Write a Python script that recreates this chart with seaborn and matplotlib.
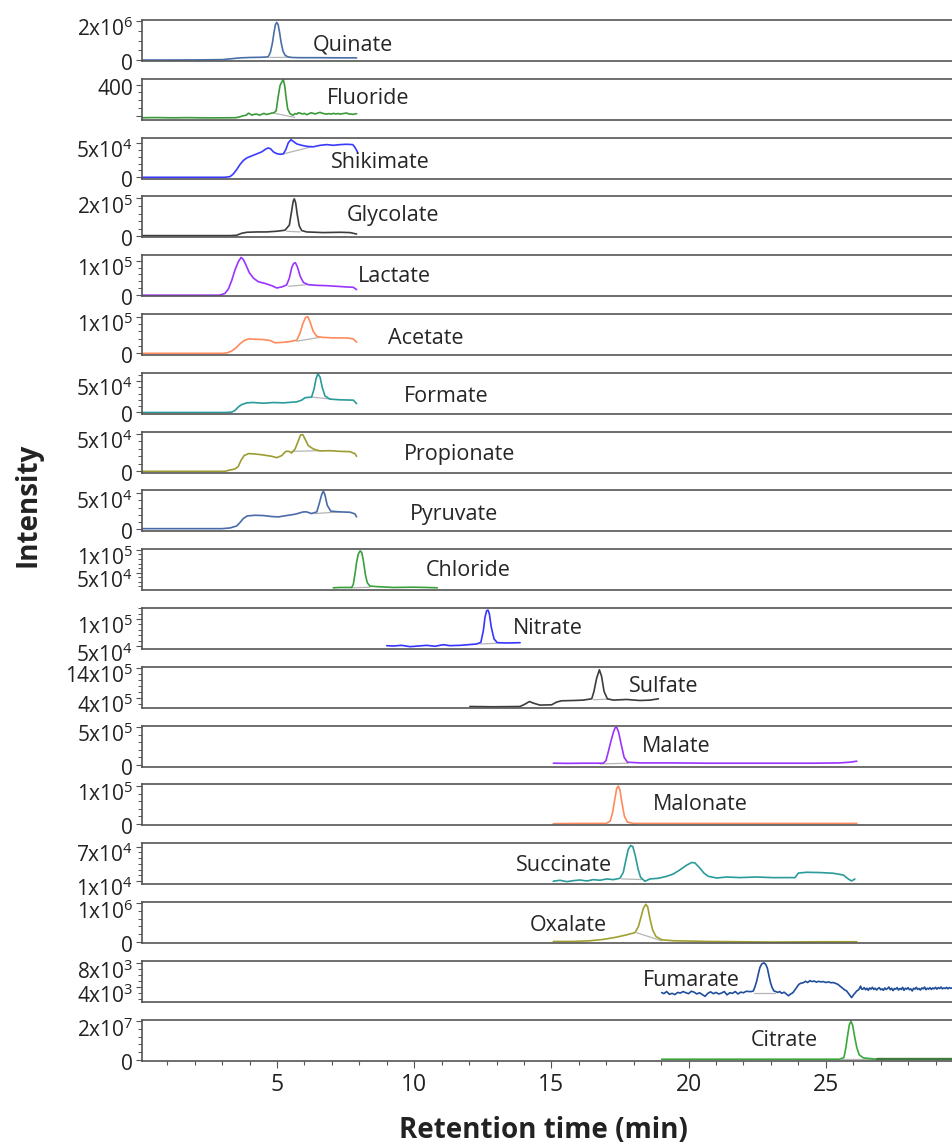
import numpy as np
import pandas as pd
import matplotlib
matplotlib.use("Agg")
import matplotlib.pyplot as plt
from matplotlib.ticker import FixedLocator, FixedFormatter, MultipleLocator
from matplotlib.transforms import ScaledTranslation
import seaborn as sns

# ------------------------------------------------------------------
# Chromatogram traces (retention time in min, intensity in counts)
# ------------------------------------------------------------------
names = ["Quinate", "Fluoride", "Shikimate", "Glycolate", "Lactate", "Acetate",
         "Formate", "Propionate", "Pyruvate", "Chloride", "Nitrate", "Sulfate",
         "Malate", "Malonate", "Succinate", "Oxalate", "Fumarate", "Citrate"]

quinate_t = [0.08, 1.0, 2.0, 3.0, 3.3, 3.65, 4.0, 4.4, 4.68, 4.76, 4.83, 4.89, 4.94, 4.99,
             5.04, 5.09, 5.15, 5.22, 5.30, 5.40, 5.55, 5.8, 6.4, 7.0, 7.6, 7.9]
quinate_y = [0, 0, 5e3, 2e4, 6e4, 1.1e5, 1.3e5, 1.4e5, 1.6e5, 4.0e5, 8.5e5, 1.4e6, 1.8e6, 1.93e6,
             1.82e6, 1.45e6, 9.0e5, 4.5e5, 2.4e5, 1.6e5, 1.3e5, 1.2e5, 1.2e5, 1.15e5, 1.1e5, 1.1e5]
quinate_base = ([4.75, 5.45], [1.3e5, 1.4e5])

fluoride_t = [0.08, 0.6, 1.2, 1.8, 2.4, 3.0, 3.5, 3.65, 3.77, 3.88, 3.96, 4.02, 4.08, 4.17, 4.26,
              4.32, 4.38, 4.45, 4.53, 4.6, 4.68, 4.75, 4.81, 4.89, 4.97, 5.04, 5.11, 5.17, 5.23,
              5.28, 5.33, 5.39, 5.47, 5.53, 5.59, 5.66, 5.72, 5.78, 5.84, 5.92, 6.0, 6.08, 6.16,
              6.24, 6.32, 6.4, 6.48, 6.57, 6.65, 6.73, 6.81, 6.9, 6.98, 7.05, 7.15, 7.22, 7.3,
              7.38, 7.46, 7.54, 7.62, 7.7, 7.78, 7.85, 7.9]
fluoride_y = [-17, -15, -18, -16, -19, -18, -17, -5, 8, 15, 40, 30, 16, 25, 29,
              20, 16, 28, 38, 24, 29, 35, 42, 45, 71, 240, 387, 430, 460,
              387, 240, 92, 37, 22, 16, 35, 28, 45, 42, 30, 38, 21, 33,
              45, 38, 30, 42, 50, 40, 33, 29, 35, 28, 38, 30, 36, 29,
              33, 38, 42, 30, 28, 25, 33, 33]
fluoride_base = ([4.93, 5.65], [38, -13])

shikimate_t = [0.08, 1.5, 3.1, 3.29, 3.41, 3.53, 3.65, 3.77, 3.90, 4.08, 4.26, 4.44, 4.60, 4.68,
               4.77, 4.87, 4.99, 5.11, 5.23, 5.32, 5.41, 5.51, 5.59, 5.72, 5.90, 6.08, 6.32,
               6.57, 6.81, 7.05, 7.30, 7.54, 7.76, 7.84, 7.93]
shikimate_y = [0, 0, 0, 1000, 4900, 11200, 18500, 24300, 28200, 31100, 34000, 36900, 41300, 42700,
               41300, 36900, 34400, 33400, 34000, 40200, 50000, 54800, 52300, 48500, 46500, 45000, 44300,
               46500, 47500, 46500, 47500, 48000, 47500, 43600, 36900]
shikimate_base = ([5.23, 6.26], [34000, 44300])

glycolate_t = [0.08, 1.5, 3.3, 3.53, 3.71, 3.90, 4.26, 4.62, 4.99, 5.29, 5.45, 5.53, 5.59, 5.63,
               5.68, 5.74, 5.81, 5.90, 6.08, 6.69, 7.30, 7.66, 7.9]
glycolate_y = [4000, 4000, 4000, 6000, 16200, 21600, 23400, 23400, 27000, 32400, 59500, 131000, 185000, 198000,
               177000, 113500, 55700, 30800, 23400, 20000, 21600, 20000, 12400]
glycolate_base = ([5.35, 5.84], [27000, 23400])

lactate_t = [0.08, 1.5, 2.9, 3.10, 3.23, 3.35, 3.47, 3.59, 3.69, 3.77, 3.87, 3.99, 4.14, 4.32, 4.56,
             4.81, 4.99, 5.17, 5.35, 5.45, 5.54, 5.61, 5.67, 5.74, 5.84, 5.96, 6.14, 6.45, 6.81,
             7.18, 7.54, 7.78, 7.9]
lactate_y = [-2000, -2000, -2000, 2900, 16600, 41700, 72900, 97100, 110000, 104000, 87500, 65000, 48600,
             37900, 33000, 26200, 19400, 22400, 28300, 48600, 80700, 92400, 94300, 82600, 55400, 35900,
             29100, 27200, 26200, 24300, 22400, 21400, 14600]
lactate_base = ([5.41, 6.08], [24300, 29100])

acetate_t = [0.08, 1.5, 3.0, 3.17, 3.35, 3.51, 3.65, 3.80, 3.96, 4.20, 4.50, 4.75, 4.93, 5.11, 5.41,
             5.72, 5.84, 5.94, 6.04, 6.12, 6.20, 6.32, 6.45, 6.63, 7.05, 7.54, 7.78, 7.9]
acetate_y = [0, 0, 0, 900, 6200, 15200, 25900, 34800, 39300, 38400, 37500, 34800, 28600, 29500, 31300,
             35700, 55400, 80400, 97300, 100000, 86600, 59800, 46400, 43700, 42000, 42000, 39300, 30400]
acetate_base = ([5.72, 6.57], [33000, 43700])

formate_t = [0.08, 1.5, 3.1, 3.35, 3.47, 3.59, 3.71, 3.90, 4.14, 4.50, 4.87, 5.23, 5.72, 5.90, 6.02,
             6.26, 6.35, 6.42, 6.49, 6.57, 6.65, 6.75, 6.93, 7.30, 7.78, 7.9]
formate_y = [0, 0, 0, 600, 3300, 8700, 12500, 15300, 15800, 14700, 15800, 15300, 16900, 19600, 23400,
             24500, 37000, 53300, 61500, 56000, 39700, 26100, 21200, 20100, 19600, 14100]
formate_base = ([6.26, 6.99], [24500, 21200])

propionate_t = [0.08, 1.5, 3.1, 3.29, 3.47, 3.59, 3.69, 3.80, 3.96, 4.20, 4.50, 4.81, 4.99, 5.17, 5.32,
                5.44, 5.53, 5.66, 5.77, 5.86, 5.94, 6.02, 6.14, 6.32, 6.57, 6.93, 7.30, 7.66, 7.84, 7.9]
propionate_y = [0, 0, 0, 1800, 3100, 6600, 14600, 20800, 23500, 23000, 21700, 19900, 18100, 20800, 26500,
                26500, 24300, 29700, 39800, 48300, 48600, 43000, 34100, 29700, 27000, 27400, 26500, 26100,
                23500, 19900]
propionate_base = ([5.53, 6.57], [26500, 27400])

pyruvate_t = [0.08, 1.5, 3.0, 3.29, 3.53, 3.65, 3.77, 3.92, 4.20, 4.50, 4.81, 5.05, 5.35, 5.66, 5.96,
              6.08, 6.26, 6.45, 6.54, 6.63, 6.69, 6.75, 6.83, 6.96, 7.30, 7.66, 7.84, 7.9]
pyruvate_y = [0, 0, 0, 1000, 3800, 8600, 14300, 18100, 19000, 18600, 17200, 16700, 18600, 20500, 23800,
              23800, 21400, 23800, 35700, 48600, 53300, 47600, 33300, 24800, 23800, 23300, 21000, 16700]
pyruvate_base = ([6.38, 7.30], [21400, 23800])

chloride_t = [7.05, 7.3, 7.72, 7.78, 7.84, 7.90, 7.96, 8.03, 8.09, 8.15, 8.22, 8.29, 8.39, 8.75,
              9.24, 9.97, 10.46, 10.84]
chloride_y = [16800, 17500, 17500, 24100, 46200, 72100, 90500, 97800, 94200, 75600, 46200, 27900,
              20400, 19000, 17500, 18100, 17500, 16800]
chloride_base = ([7.72, 8.39], [16800, 18100])

nitrate_t = [9.0, 9.24, 9.54, 9.85, 10.15, 10.46, 10.76, 11.06, 11.3, 11.67, 11.97, 12.28, 12.43,
             12.52, 12.58, 12.64, 12.69, 12.74, 12.81, 12.91, 13.03, 13.37, 13.86]
nitrate_y = [51100, 50500, 51700, 49300, 50500, 51700, 50000, 52900, 51100, 51700, 52900, 54200, 57300,
             78500, 103100, 115200, 116400, 109200, 84800, 63400, 56600, 56000, 56600]
nitrate_base = ([12.40, 13.0], [54200, 55400])

sulfate_t = [12.03, 12.88, 13.86, 14.04, 14.2, 14.34, 14.58, 15.01, 15.19, 15.37, 15.8, 16.16, 16.47,
             16.55, 16.65, 16.75, 16.83, 16.92, 17.04, 17.26, 17.74, 18.23, 18.59, 18.9]
sulfate_y = [1.07e5, 0.97e5, 1.07e5, 1.88e5, 2.75e5, 2.21e5, 1.54e5, 1.64e5, 2.55e5, 2.99e5, 3.09e5,
             3.22e5, 3.66e5, 6.12e5, 1.063e6, 1.343e6, 1.117e6, 6.12e5, 3.66e5, 3.22e5, 3.44e5, 3.09e5,
             3.22e5, 3.66e5]
sulfate_base = ([16.53, 17.07], [3.33e5, 3.55e5])

malate_t = [15.07, 15.6, 16.2, 16.89, 16.99, 17.07, 17.16, 17.26, 17.32, 17.38, 17.45, 17.54, 17.65,
            17.77, 18.23, 19.44, 20.66, 21.87, 23.09, 24.54, 25.52, 25.88, 26.13]
malate_y = [22500, 20000, 22500, 22500, 57000, 168000, 301000, 433000, 491000, 500000, 433000, 279000,
            102000, 35800, 26500, 26500, 22500, 22500, 22500, 22500, 26500, 35800, 49000]
malate_base = ([16.77, 17.80], [13000, 22500])

malonate_t = [15.07, 16.0, 17.0, 17.14, 17.23, 17.31, 17.38, 17.44, 17.50, 17.57, 17.66, 17.77, 18.0,
              20.0, 22.0, 24.0, 26.13]
malonate_y = [0, 800, 800, 6900, 29300, 64600, 93900, 100000, 89400, 55900, 20200, 4300, 800,
              800, 800, 800, 800]
malonate_base = ([17.07, 18.05], [0, 0])

succinate_t = [15.07, 15.31, 15.56, 15.80, 16.04, 16.29, 16.53, 16.77, 17.02, 17.26, 17.50, 17.62,
               17.72, 17.80, 17.89, 17.97, 18.06, 18.16, 18.25, 18.41, 18.59, 18.90, 19.20, 19.44,
               19.69, 19.93, 20.11, 20.23, 20.39, 20.56, 20.72, 21.02, 21.39, 21.87, 22.48, 23.09,
               23.58, 23.88, 24.0, 24.30, 24.79, 25.27, 25.64, 25.82, 25.94, 26.06]
succinate_y = [9500, 11200, 8800, 10500, 11700, 10000, 12300, 11200, 13500, 12300, 14700, 25000,
               48000, 65300, 72200, 70000, 53800, 30700, 16400, 9500, 13500, 14700, 18100, 22100,
               29600, 37700, 42300, 41700, 33700, 23800, 18100, 15200, 16900, 15900, 16900, 15800,
               15900, 15800, 23800, 25200, 24700, 23500, 20400, 13500, 10000, 13500]
succinate_base = ([17.56, 18.29], [13500, 12500])

oxalate_t = [15.07, 15.8, 16.41, 16.89, 17.38, 17.74, 18.05, 18.17, 18.27, 18.35, 18.44, 18.51, 18.59,
             18.69, 18.81, 19.02, 19.44, 20.66, 21.87, 23.09, 24.91, 26.13]
oxalate_y = [7700, 7700, 25600, 59800, 120000, 179000, 239000, 393000, 650000, 864000, 974000, 906000,
             607000, 308000, 137000, 51000, 25600, 7700, 0, -8500, 0, 0]
oxalate_base = ([18.11, 19.02], [232000, 25600])

fumarate_t = [19.02, 19.1, 19.2, 19.3, 19.4, 19.5, 19.6, 19.7, 19.8, 19.9, 20.0, 20.1, 20.2, 20.3,
              20.4, 20.5, 20.6, 20.7, 20.8, 20.9, 21.0, 21.1, 21.2, 21.3, 21.4, 21.5, 21.6, 21.7,
              21.8, 21.9, 22.0, 22.1, 22.2, 22.30, 22.36, 22.42, 22.48, 22.54, 22.60, 22.67, 22.75,
              22.81, 22.87, 22.93, 22.99, 23.05, 23.11, 23.18, 23.25, 23.32, 23.40, 23.48, 23.56,
              23.64, 23.72, 23.80, 23.88, 23.94, 24.02, 24.10, 24.18, 24.26, 24.34, 24.42, 24.50,
              24.58, 24.66, 24.74, 24.82, 24.91, 25.0, 25.1, 25.2, 25.27, 25.35, 25.44, 25.52, 25.6,
              25.68, 25.76, 25.84, 25.94, 26.02, 26.13, 26.2, 26.27, 26.31, 26.35, 26.40, 26.45,
              26.50, 26.55, 26.60, 26.65, 26.70, 26.75, 26.80, 26.85, 26.90, 26.95, 27.00, 27.05,
              27.10, 27.15, 27.20, 27.25, 27.30, 27.35, 27.40, 27.45, 27.50, 27.55, 27.60, 27.65,
              27.70, 27.75, 27.80, 27.85, 27.90, 27.95, 28.00, 28.05, 28.10, 28.15, 28.20, 28.25,
              28.30, 28.35, 28.40, 28.45, 28.50, 28.55, 28.60, 28.65, 28.70, 28.75, 28.80, 28.85,
              28.90, 28.95, 29.00, 29.05, 29.10, 29.15, 29.20, 29.25, 29.30, 29.35, 29.40, 29.45,
              29.50, 29.55, 29.60]
fumarate_y = [3130, 2960, 3300, 2850, 3000, 2800, 3150, 3050, 3300, 3100, 2950, 3350, 3200, 2900,
              3100, 2800, 2500, 3000, 3250, 2950, 3150, 2900, 3050, 3300, 2750, 3100, 3000, 3300,
              2900, 3200, 3100, 3350, 3300, 3300, 3400, 4100, 5000, 6200, 7300, 7900, 8050,
              7800, 7200, 5900, 4700, 3900, 3400, 3300, 3150, 3300, 3000, 3200, 2900,
              2600, 2900, 3100, 3600, 3950, 4500, 4700, 4760, 5000, 4800, 5100, 4950,
              5050, 4850, 5000, 4900, 4950, 4800, 4900, 4750, 4800, 4650, 4500, 4200, 3900,
              3600, 3400, 2900, 2300, 2800, 3400, 3600, 4200, 3700, 3700, 3950, 3600,
              3850, 3500, 3900, 3700, 4000, 3650, 3850, 3550, 3800, 3950, 3600, 3750,
              3500, 3900, 3650, 3800, 4050, 3600, 3850, 3450, 3800, 3700, 3950, 3550,
              3800, 3650, 4000, 3500, 3850, 3700, 3950, 3600, 3750, 3400, 3850, 3700,
              4000, 3650, 3800, 3550, 3900, 3750, 4050, 3600, 3850, 3700, 3950, 3650,
              3900, 3750, 4000, 3700, 3950, 3800, 4050, 3750, 3900, 3800, 4000, 3750,
              3950, 3850, 3900]
fumarate_base = ([22.40, 23.15], [3130, 3130])

citrate_t = [19.02, 22.0, 25.5, 25.66, 25.73, 25.80, 25.86, 25.92, 25.98, 26.05, 26.13, 26.22, 26.37,
             26.73, 26.85, 28.0, 29.6]
citrate_y = [3.5e5, 3.5e5, 3.5e5, 1.2e6, 6.1e6, 1.305e7, 1.83e7, 2.0e7, 1.79e7, 1.22e7, 6.4e6, 2.6e6,
             1.04e6, 5.0e5, 3.5e5, 3.5e5, 3.5e5]
citrate_base = ([25.55, 26.9], [3.5e5, 3.5e5])

traces_t = [quinate_t, fluoride_t, shikimate_t, glycolate_t, lactate_t, acetate_t, formate_t,
            propionate_t, pyruvate_t, chloride_t, nitrate_t, sulfate_t, malate_t, malonate_t,
            succinate_t, oxalate_t, fumarate_t, citrate_t]
traces_y = [quinate_y, fluoride_y, shikimate_y, glycolate_y, lactate_y, acetate_y, formate_y,
            propionate_y, pyruvate_y, chloride_y, nitrate_y, sulfate_y, malate_y, malonate_y,
            succinate_y, oxalate_y, fumarate_y, citrate_y]
baselines = [quinate_base, fluoride_base, shikimate_base, glycolate_base, lactate_base, acetate_base,
             formate_base, propionate_base, pyruvate_base, chloride_base, nitrate_base, sulfate_base,
             malate_base, malonate_base, succinate_base, oxalate_base, fumarate_base, citrate_base]

# Intensity axis of each panel: range, labelled ticks, minor tick step
y_ranges = [(-5e4, 2.05e6), (-43, 472), (-1900, 57700), (-5400, 210800), (-5000, 116600),
            (-4600, 107200), (-2100, 63000), (-1700, 52700), (-3900, 54300), (11500, 101500),
            (45000, 120200), (63000, 1444000), (-22500, 521000), (-4500, 104500), (4300, 76200),
            (-33000, 1033000), (1600, 8400), (-3.7e5, 2.09e7)]
y_ticks = [[0, 2e6], [0, 400], [0, 5e4], [0, 2e5], [0, 1e5], [0, 1e5], [0, 5e4], [0, 5e4], [0, 5e4],
           [5e4, 1e5], [5e4, 1e5], [4e5, 14e5], [0, 5e5], [0, 1e5], [1e4, 7e4], [0, 1e6], [4e3, 8e3],
           [0, 2e7]]
y_tick_labels = [["0", "2x10^6"], ["", "400"], ["0", "5x10^4"], ["0", "2x10^5"], ["0", "1x10^5"],
                 ["0", "1x10^5"], ["0", "5x10^4"], ["0", "5x10^4"], ["0", "5x10^4"],
                 ["5x10^4", "1x10^5"], ["5x10^4", "1x10^5"], ["4x10^5", "14x10^5"], ["0", "5x10^5"],
                 ["0", "1x10^5"], ["1x10^4", "7x10^4"], ["0", "1x10^6"], ["4x10^3", "8x10^3"],
                 ["0", "2x10^7"]]
y_minor = [5e5, 100, 1e4, 4e4, 2e4, 2e4, 1e4, 1e4, 1e4, 1e4, 1e4, 2e5, 1e5, 2e4, 1e4, 2e5, 1e3, 4e6]

x_major = [5, 10, 15, 20, 25]

# ------------------------------------------------------------------
# Styling / layout
# ------------------------------------------------------------------
colors = ["#4a6fa8", "#3a9a3a", "#3a3aff", "#3c3c3c", "#9933ff", "#ff8a5c", "#2a9a9a", "#9c9c32",
          "#4a6aa8", "#3aa03a", "#3535ff", "#3c3c3c", "#9933ff", "#ff8a5c", "#2a9a9a", "#a0a030",
          "#1f4e9a", "#3aa83a"]
# compound name position: (x in minutes, y as fraction of panel height)
name_pos = [(6.31, 0.39), (6.82, 0.53), (6.97, 0.39), (7.55, 0.525), (7.95, 0.47), (9.04, 0.40),
            (9.63, 0.425), (9.63, 0.44), (9.85, 0.41), (10.43, 0.48), (13.6, 0.51), (17.83, 0.51),
            (18.3, 0.50), (18.7, 0.51), (13.71, 0.46), (14.22, 0.42), (18.34, 0.52), (22.28, 0.48)]

sns.set_style("white")
plt.rcParams["font.family"] = ["Open Sans", "DejaVu Sans"]
plt.rcParams["mathtext.fontset"] = "custom"
plt.rcParams["mathtext.rm"] = "Open Sans"
plt.rcParams["mathtext.it"] = "Open Sans"

W, H = 952, 1146
fig = plt.figure(figsize=(W / 100, H / 100), dpi=100)

frame_col = "#555555"
left_px, top0_px, step_px, panel_h_px = 142, 20, 58.8, 41


def fmt(label):
    if "^" in label:
        base, exp = label.split("^")
        return r"$\mathregular{%s^{%s}}$" % (base, exp)
    return label


axes = []
for i in range(len(names)):
    top = top0_px + i * step_px
    ax = fig.add_axes([left_px / W, 1 - (top + panel_h_px) / H, 1 - left_px / W, panel_h_px / H],
                      sharex=axes[0] if axes else None)
    axes.append(ax)

    df = pd.DataFrame({"t": traces_t[i], "v": traces_y[i]})
    bt, bv = baselines[i]
    sns.lineplot(x=bt, y=bv, ax=ax, color="#b5b5b5", linewidth=0.9, estimator=None, sort=False)
    if names[i] == "Citrate":
        k = df.index[df["t"] >= 26.85][0]
        sns.lineplot(data=df.iloc[:k + 1], x="t", y="v", ax=ax, color=colors[i], linewidth=1.2,
                     estimator=None, sort=False)
        sns.lineplot(data=df.iloc[k:], x="t", y="v", ax=ax, color="#3f7a3f", linewidth=1.7,
                     estimator=None, sort=False)
    else:
        sns.lineplot(data=df, x="t", y="v", ax=ax, color=colors[i], linewidth=1.2,
                     estimator=None, sort=False)

    ax.set_ylim(*y_ranges[i])
    ax.yaxis.set_major_locator(FixedLocator(y_ticks[i]))
    ax.yaxis.set_major_formatter(FixedFormatter([fmt(s) for s in y_tick_labels[i]]))
    ax.yaxis.set_minor_locator(MultipleLocator(y_minor[i]))
    ax.tick_params(axis="y", which="major", direction="out", length=4.3, width=0.8,
                   color=frame_col, labelsize=15, pad=2, labelcolor="#222222", left=True)
    ax.tick_params(axis="y", which="minor", direction="out", length=2.8, width=0.7,
                   color=frame_col, left=True)

    # labels sit a little below their tick marks
    for tick, lab in zip(ax.yaxis.get_major_ticks(), y_tick_labels[i]):
        dy = 6.0 if "^" in lab else 2.0
        tick.label1.set_transform(tick.label1.get_transform()
                                  + ScaledTranslation(0, -dy / 100, fig.dpi_scale_trans))

    for side in ("top", "bottom", "left"):
        ax.spines[side].set_visible(True)
        ax.spines[side].set_color(frame_col)
        ax.spines[side].set_linewidth(1.2)
    ax.spines["right"].set_visible(False)
    ax.set_xlabel("")
    ax.set_ylabel("")

    nx, ny = name_pos[i]
    ax.text(nx, ny, names[i], transform=ax.get_xaxis_transform(), ha="left", va="center",
            fontsize=15.5, color="#262626")

    if i < len(names) - 1:
        ax.tick_params(axis="x", which="both", bottom=False, labelbottom=False)

ax_last = axes[-1]
ax_last.set_xlim(0.08, 29.6)
ax_last.xaxis.set_major_locator(FixedLocator(x_major))
ax_last.xaxis.set_minor_locator(MultipleLocator(1))
ax_last.tick_params(axis="x", which="major", direction="out", length=5.2, width=0.8,
                    color=frame_col, labelsize=16.5, pad=4, labelcolor="#222222", bottom=True)
ax_last.tick_params(axis="x", which="minor", direction="out", length=3.0, width=0.8,
                    color=frame_col, bottom=True)

fig.text(28 / W, 1 - 505 / H, "Intensity", rotation=90, ha="center", va="center",
         fontsize=20, fontweight="bold", color="#222222")
fig.text(543 / W, 1 - 1131 / H, "Retention time (min)", ha="center", va="center",
         fontsize=20, fontweight="bold", color="#222222")

fig.savefig("out.png", dpi=100)
